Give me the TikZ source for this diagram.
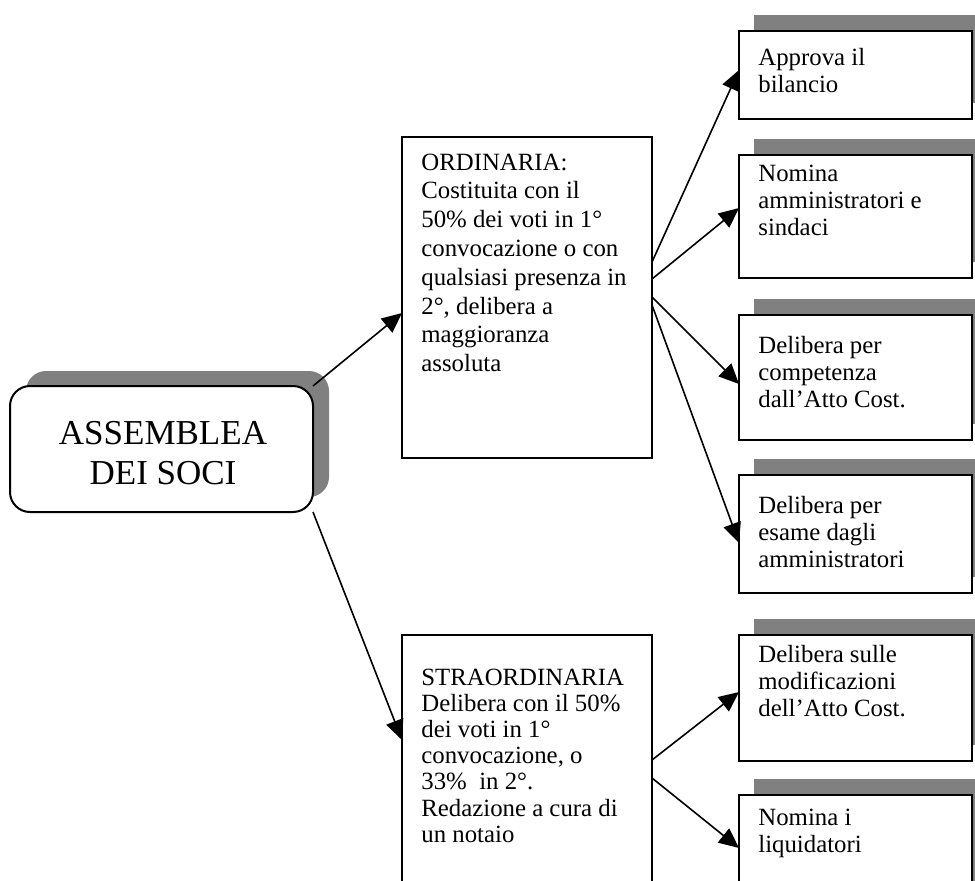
\documentclass[tikz,border=0pt]{standalone}
\usepackage{fontspec}
\setmainfont{Liberation Serif}
\usetikzlibrary{arrows.meta,calc,shadows}
\definecolor{shgray}{RGB}{128,128,128}
\newcommand{\txtlines}[1]{\begin{tabular}[t]{@{}l@{}}#1\end{tabular}}
\begin{document}
\begin{tikzpicture}[x=0.5pt,y=-0.5pt,
  plainbox/.style={draw,line width=1pt,fill=white,inner sep=0pt,outer sep=0pt,anchor=north west},
  sidebox/.style={plainbox,minimum width=116.5pt,
    drop shadow={shadow xshift=7.5pt,shadow yshift=8pt,fill=shgray,opacity=1}},
  mainbox/.style={plainbox,minimum width=125pt},
  rootbox/.style={draw,line width=1pt,fill=white,rounded corners=10pt,inner sep=0pt,outer sep=0pt,
    minimum width=151.5pt,minimum height=63pt,
    drop shadow={shadow xshift=8pt,shadow yshift=7.5pt,fill=shgray,opacity=1}},
  sidetxt/.style={inner sep=0pt,anchor=base west,font=\fontsize{12.4}{13.6}\selectfont},
  ordtxt/.style={inner sep=0pt,anchor=base west,font=\fontsize{12.4}{14.4}\selectfont},
  strtxt/.style={inner sep=0pt,anchor=base west,font=\fontsize{12.4}{13.1}\selectfont},
  roottxt/.style={inner sep=0pt,align=center,font=\fontsize{17.5}{20}\selectfont},
  arr/.style={line width=0.8pt,-{Triangle[length=10pt,width=9pt]}}]
\useasboundingbox (0,0) rectangle (975,880);
\clip (0,0) rectangle (975,880);

% root
\node[rootbox] (ass) at (161.5,449) {};
\node[roottxt] (asst) at (163,453.5) {ASSEMBLEA\\DEI SOCI};

% main boxes
\node[mainbox,minimum height=160.5pt] (ord) at (402,137) {};
\node[ordtxt] (ordt) at (421,170) {\txtlines{ORDINARIA:\\Costituita con il\\50\% dei voti in 1°\\convocazione o con\\qualsiasi presenza in\\2°, delibera a\\maggioranza\\assoluta}};

\node[mainbox,minimum height=132.5pt] (str) at (402,635) {};
\node[strtxt] (strt) at (421,685) {\txtlines{STRAORDINARIA\\Delibera con il 50\%\\dei voti in 1°\\convocazione, o\\33\%\ \ in 2°.\\Redazione a cura di\\un notaio}};

% side boxes
\node[sidebox,minimum height=44pt] (b1) at (739,31) {};
\node[sidetxt] (b1t) at (758,65) {\txtlines{Approva il\\bilancio}};

\node[sidebox,minimum height=61.5pt] (b2) at (739,155) {};
\node[sidetxt] (b2t) at (758,181) {\txtlines{Nomina\\amministratori e\\sindaci}};

\node[sidebox,minimum height=62.5pt] (b3) at (739,315) {};
\node[sidetxt] (b3t) at (758,353) {\txtlines{Delibera per\\competenza\\dall’Atto Cost.}};

\node[sidebox,minimum height=59pt] (b4) at (739,475) {};
\node[sidetxt] (b4t) at (758,513) {\txtlines{Delibera per\\esame dagli\\amministratori}};

\node[sidebox,minimum height=63pt] (b5) at (739,635) {};
\node[sidetxt] (b5t) at (758,662) {\txtlines{Delibera sulle\\modificazioni\\dell’Atto Cost.}};

\node[sidebox,minimum height=52.5pt] (b6) at (739,795) {};
\node[sidetxt] (b6t) at (758,825) {\txtlines{Nomina i\\liquidatori}};

% connectors
\draw[arr] (ass.north east) -- ($(ord.north west)+(0,176)$);
\draw[arr] (ass.south east) -- ($(str.north west)+(0,105)$);
\draw[arr] ($(ord.north east)+(0,125)$) -- ($(b1.north west)+(0,39)$);
\draw[arr] ($(ord.north east)+(0,142)$) -- ($(b2.north west)+(0,53)$);
\draw[arr] ($(ord.north east)+(0,160)$) -- ($(b3.north west)+(0,69)$);
\draw[arr] ($(ord.north east)+(0,168)$) -- ($(b4.north west)+(0,68)$);
\draw[arr] ($(str.north east)+(0,125)$) -- ($(b5.north west)+(0,57)$);
\draw[arr] ($(str.north east)+(0,143)$) -- ($(b6.north west)+(0,53)$);
\end{tikzpicture}
\end{document}
